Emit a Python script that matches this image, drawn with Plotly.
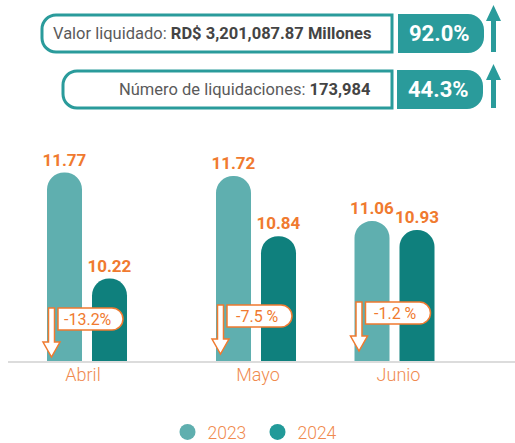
import plotly.graph_objects as go

# ---------------- data ----------------
months = ["Abril", "Mayo", "Junio"]
values_2023 = [11.77, 11.72, 11.06]
values_2024 = [10.22, 10.84, 10.93]
change_labels = ["-13.2%", "-7.5 %", "-1.2 %"]
years = ["2023", "2024"]

header_labels = ["Valor liquidado: ", "Número de liquidaciones: "]
header_values = ["RD$ 3,201,087.87 Millones", "173,984"]
header_growth = ["92.0%", "44.3%"]

# ---------------- style / layout ----------------
W, H = 515, 443
FONT = "Roboto"
TEAL_2023 = "#5FAFAF"
TEAL_2024 = "#0F807D"
LEG_2023 = "#5FAFAF"
LEG_2024 = "#229A99"
TEAL_HDR = "#2A9B9B"
ORANGE = "#F07A2F"
ORANGE_LIGHT = "#F08A4E"
GRAY_TXT = "#5A5A5A"

baseline_px = 362
top_px = 140
y_min = 9.0
px_per_unit = 68.4
y_max = y_min + (baseline_px - top_px) / px_per_unit

group_centers_px = [87, 256, 394.5]
tick_shift_px = [-4, 2, 4]
slot_w = 120
bargap = 0.25
bargroupgap = 0.222
badge_top_px = [308, 305, 302]


def P(x, y):
    return f"{x / W:.5f},{1 - y / H:.5f}"


def rrect(x0, y0, x1, y1, rl, rr):
    k = 0.5523
    s = [f"M {P(x0 + rl, y0)}", f"L {P(x1 - rr, y0)}"]
    if rr > 0:
        s.append(f"C {P(x1 - rr + k * rr, y0)} {P(x1, y0 + rr - k * rr)} {P(x1, y0 + rr)}")
    s.append(f"L {P(x1, y1 - rr)}")
    if rr > 0:
        s.append(f"C {P(x1, y1 - rr + k * rr)} {P(x1 - rr + k * rr, y1)} {P(x1 - rr, y1)}")
    s.append(f"L {P(x0 + rl, y1)}")
    if rl > 0:
        s.append(f"C {P(x0 + rl - k * rl, y1)} {P(x0, y1 - rl + k * rl)} {P(x0, y1 - rl)}")
    s.append(f"L {P(x0, y0 + rl)}")
    if rl > 0:
        s.append(f"C {P(x0, y0 + rl - k * rl)} {P(x0 + rl - k * rl, y0)} {P(x0 + rl, y0)}")
    s.append("Z")
    return " ".join(s)


def poly(pts):
    return "M " + " L ".join(P(x, y) for x, y in pts) + " Z"


fig = go.Figure()

for i, m in enumerate(months):
    xa = "x" if i == 0 else f"x{i + 1}"
    for yr, vals, col in [(years[0], values_2023, TEAL_2023), (years[1], values_2024, TEAL_2024)]:
        fig.add_trace(go.Bar(
            x=[m], y=[vals[i]], name=yr, xaxis=xa, yaxis="y",
            marker=dict(color=col, cornerradius="50%", line=dict(width=0)),
            text=[f"{vals[i]:.2f}"], textposition="outside", cliponaxis=False,
            constraintext="none",
            textfont=dict(family=FONT, size=17, color=ORANGE, weight="bold"),
            showlegend=False, hoverinfo="skip",
        ))

# legend entries (circles)
for yr, col in [(years[0], LEG_2023), (years[1], LEG_2024)]:
    fig.add_trace(go.Scatter(
        x=[None], y=[None], mode="markers", name=yr,
        marker=dict(symbol="circle", size=16, color=col),
        xaxis="x", yaxis="y", showlegend=True,
    ))

layout = dict(
    width=W, height=H,
    margin=dict(l=0, r=0, t=0, b=0, autoexpand=False),
    paper_bgcolor="white", plot_bgcolor="rgba(0,0,0,0)",
    barmode="group", bargap=bargap, bargroupgap=bargroupgap,
    font=dict(family=FONT),
    showlegend=True,
    legend=dict(orientation="h", x=0.5, xanchor="center", y=1 - 432 / H, yanchor="middle",
                font=dict(family=FONT, size=17.5, color=ORANGE_LIGHT, weight=300),
                itemwidth=30, entrywidth=45, bgcolor="rgba(0,0,0,0)"),
    yaxis=dict(domain=[(H - baseline_px) / H, (H - top_px) / H], range=[y_min, y_max],
               visible=False, fixedrange=True, automargin=False),
)
for i, c in enumerate(group_centers_px):
    key = "xaxis" if i == 0 else f"xaxis{i + 1}"
    layout[key] = dict(domain=[(c - slot_w / 2) / W, (c + slot_w / 2) / W], anchor="y",
                       type="category", showgrid=False, zeroline=False, showline=False,
                       ticks="", fixedrange=True, automargin=False,
                       ticklabelshift=tick_shift_px[i],
                       tickfont=dict(family=FONT, size=18, color=ORANGE_LIGHT, weight=300))
fig.update_layout(**layout)

shapes = []
annotations = []

# baseline
shapes.append(dict(type="line", xref="paper", yref="paper", x0=8 / W, x1=1,
                   y0=1 - baseline_px / H, y1=1 - baseline_px / H,
                   line=dict(color="#DCDCDC", width=2), layer="above"))

# change badges and hollow arrows
group_w = slot_w * (1 - bargap)
bar_slot = group_w / 2
bar_w = bar_slot * (1 - bargroupgap)
for i, c in enumerate(group_centers_px):
    left = c - group_w / 2 + (bar_slot - bar_w) / 2
    top = badge_top_px[i]
    sx = left + 4.5
    pts = [(sx - 3, top), (sx + 3, top), (sx + 3, top + 34), (sx + 8.5, top + 34),
           (sx, top + 49), (sx - 8.5, top + 34), (sx - 3, top + 34)]
    shapes.append(dict(type="path", xref="paper", yref="paper", path=poly(pts),
                       fillcolor="white", line=dict(color=ORANGE, width=1.5), layer="above"))
    bx0 = left + 11
    bx1 = bx0 + 65
    shapes.append(dict(type="path", xref="paper", yref="paper",
                       path=rrect(bx0, top, bx1, top + 22, 0, 11),
                       fillcolor="white", line=dict(color=ORANGE, width=1.5), layer="above"))
    annotations.append(dict(xref="paper", yref="paper", x=((bx0 + bx1) / 2 - 2) / W,
                            y=1 - (top + 11) / H, text=change_labels[i], showarrow=False,
                            xanchor="center", yanchor="middle",
                            font=dict(family=FONT, size=16, color=ORANGE)))

# header boxes
rows = [dict(y0=15, y1=52, ox0=42, fx0=398, fx1=484, tip=5, hb=21),
        dict(y0=71, y1=108, ox0=63, fx0=397, fx1=483, tip=64, hb=80)]
for j, r in enumerate(rows):
    shapes.append(dict(type="path", xref="paper", yref="paper",
                       path=rrect(r["ox0"], r["y0"], 392, r["y1"], 14, 0),
                       fillcolor="white", line=dict(color=TEAL_HDR, width=3)))
    shapes.append(dict(type="path", xref="paper", yref="paper",
                       path=rrect(r["fx0"], r["y0"] - 1, r["fx1"], r["y1"] + 1, 0, 16),
                       fillcolor=TEAL_HDR, line=dict(width=0)))
    ax = 493.5
    apts = [(ax - 2.5, r["y1"]), (ax - 2.5, r["hb"]), (ax - 7.5, r["hb"]), (ax, r["tip"]),
            (ax + 7.5, r["hb"]), (ax + 2.5, r["hb"]), (ax + 2.5, r["y1"])]
    shapes.append(dict(type="path", xref="paper", yref="paper", path=poly(apts),
                       fillcolor=TEAL_HDR, line=dict(width=0)))
    cy = (r["y0"] + r["y1"]) / 2
    annotations.append(dict(xref="paper", yref="paper", x=373 / W, y=1 - cy / H,
                            xanchor="right", yanchor="middle", showarrow=False,
                            text=f"{header_labels[j]}<b><span style='color:#444444'>{header_values[j]}</span></b>",
                            font=dict(family=FONT, size=16.5, color=GRAY_TXT)))
    annotations.append(dict(xref="paper", yref="paper", x=((r["fx0"] + r["fx1"]) / 2 - 2) / W,
                            y=1 - cy / H, xanchor="center", yanchor="middle", showarrow=False,
                            text=f"<b>{header_growth[j]}</b>",
                            font=dict(family=FONT, size=22, color="white")))

fig.update_layout(shapes=shapes, annotations=annotations)
fig.write_html("out.html", config={"displayModeBar": False},
               post_script="document.body.style.margin='0';")
